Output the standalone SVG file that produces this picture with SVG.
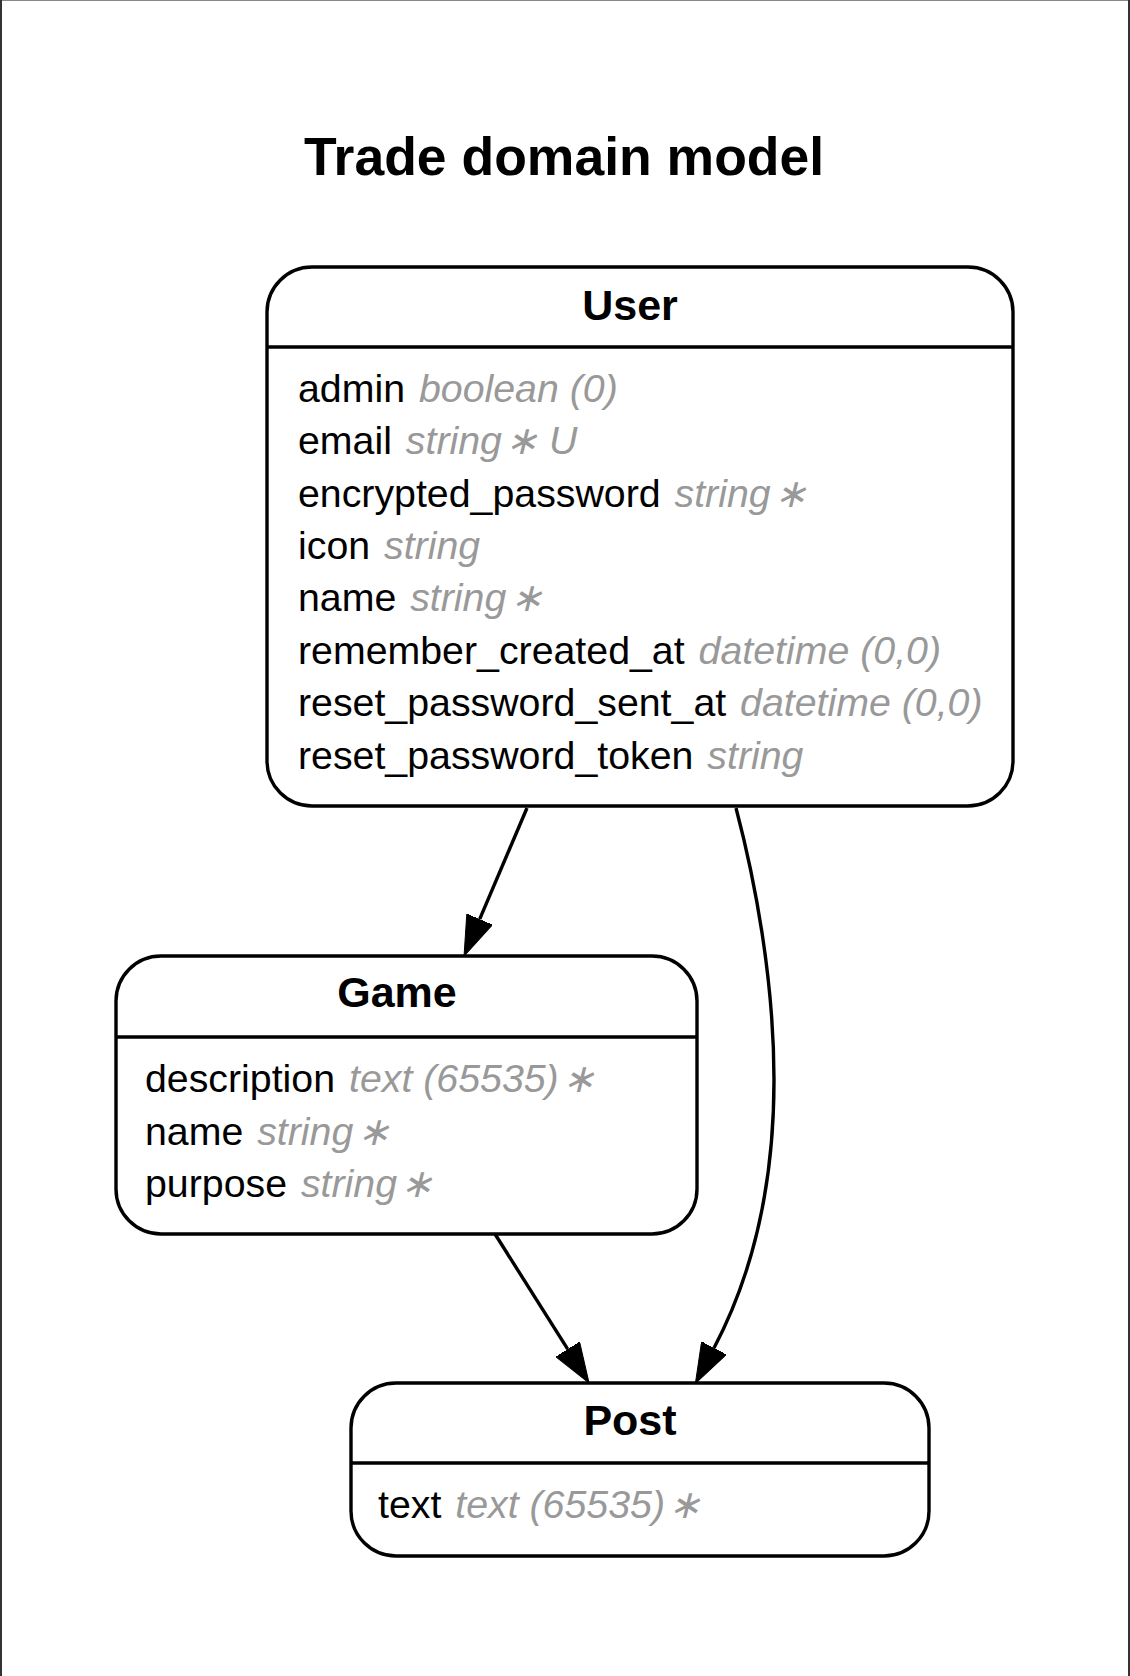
<svg xmlns="http://www.w3.org/2000/svg" width="1130" height="1676" viewBox="0 0 1130 1676">
<style>
  .title { font-family: "Liberation Sans", Arial, sans-serif; font-weight: bold; font-size: 53.5px; fill: #000; }
  .ename { font-family: "Liberation Sans", Arial, sans-serif; font-weight: bold; font-size: 43px; fill: #000; text-anchor: middle; }
  .attr { font-family: "Liberation Sans", Arial, sans-serif; font-size: 39.3px; fill: #000; }
  .type { font-style: italic; fill: #999999; }
  .box { fill: #ffffff; stroke: #000; stroke-width: 3.4; }
  .sep { stroke: #000; stroke-width: 3.4; }
  .edge { fill: none; stroke: #000; stroke-width: 3.4; }
</style>
<defs>
  <marker id="arrow" viewBox="0 0 40 28" refX="0" refY="14" markerWidth="40" markerHeight="28" markerUnits="userSpaceOnUse" orient="auto">
    <path d="M0,0 L40,14 L0,28 Z" fill="#000" stroke="#000" stroke-width="1"/>
  </marker>
</defs>
<rect x="0" y="0" width="1130" height="1676" fill="#ffffff"/>
<line x1="0" y1="0.5" x2="1130" y2="0.5" stroke="#888" stroke-width="1"/>
<line x1="1" y1="0" x2="1" y2="1676" stroke="#333" stroke-width="2"/>
<line x1="1129" y1="0" x2="1129" y2="1676" stroke="#333" stroke-width="2"/>

<text class="title" x="564" y="175" text-anchor="middle">Trade domain model</text>

<g id="connectors">
  <path id="edge-user-game" class="edge" d="M527,808 L479.7,919.2" marker-end="url(#arrow)"/>
  <path id="edge-game-post" class="edge" d="M495,1234 L567.7,1349.2" marker-end="url(#arrow)"/>
  <path id="edge-user-post" class="edge" d="M736,808 C755,880 774,980 774,1080 C774,1180 755,1270 714,1348" marker-end="url(#arrow)"/>
</g>

<g id="node-user">
  <rect class="box" x="267" y="267" width="746" height="539" rx="45" ry="45"/>
  <line class="sep" x1="267" y1="347" x2="1013" y2="347"/>
  <text class="ename" x="630" y="320">User</text>
  <text class="attr" x="298" y="402">admin <tspan class="type" dx="3">boolean (0)</tspan></text>
  <text class="attr" x="298" y="454">email <tspan class="type" dx="3">string&#x200A;∗ U</tspan></text>
  <text class="attr" x="298" y="506.5">encrypted_password <tspan class="type" dx="3">string&#x200A;∗</tspan></text>
  <text class="attr" x="298" y="559">icon <tspan class="type" dx="3">string</tspan></text>
  <text class="attr" x="298" y="611">name <tspan class="type" dx="3">string&#x200A;∗</tspan></text>
  <text class="attr" x="298" y="664">remember_created_at <tspan class="type" dx="3">datetime (0,0)</tspan></text>
  <text class="attr" x="298" y="716">reset_password_sent_at <tspan class="type" dx="3">datetime (0,0)</tspan></text>
  <text class="attr" x="298" y="769">reset_password_token <tspan class="type" dx="3">string</tspan></text>
</g>

<g id="node-game">
  <rect class="box" x="116" y="956" width="581" height="278" rx="45" ry="45"/>
  <line class="sep" x1="116" y1="1037" x2="697" y2="1037"/>
  <text class="ename" x="397" y="1007">Game</text>
  <text class="attr" x="145" y="1092">description <tspan class="type" dx="3">text (65535)&#x200A;∗</tspan></text>
  <text class="attr" x="145" y="1145">name <tspan class="type" dx="3">string&#x200A;∗</tspan></text>
  <text class="attr" x="145" y="1197">purpose <tspan class="type" dx="3">string&#x200A;∗</tspan></text>
</g>

<g id="node-post">
  <rect class="box" x="351" y="1383" width="578" height="173" rx="45" ry="45"/>
  <line class="sep" x1="351" y1="1463" x2="929" y2="1463"/>
  <text class="ename" x="630" y="1435">Post</text>
  <text class="attr" x="378" y="1518">text <tspan class="type" dx="3">text (65535)&#x200A;∗</tspan></text>
</g>
</svg>
